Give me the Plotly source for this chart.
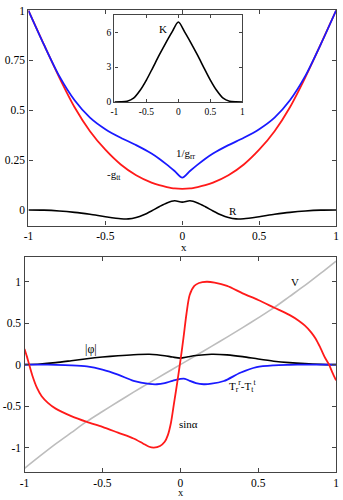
import plotly.graph_objects as go

# ---- upper panel: metric functions and curvature scalar ----
x_top = [-1, -0.9, -0.8, -0.7, -0.6, -0.5, -0.4, -0.3, -0.2, -0.15, -0.1, -0.05, 0,
         0.05, 0.1, 0.15, 0.2, 0.3, 0.4, 0.5, 0.6, 0.7, 0.8, 0.9, 1]
inv_grr = [1.0, 0.83, 0.672, 0.55, 0.463, 0.405, 0.362, 0.325, 0.283, 0.257, 0.227, 0.195, 0.162,
           0.195, 0.227, 0.257, 0.283, 0.325, 0.362, 0.405, 0.463, 0.55, 0.672, 0.83, 1.0]
minus_gtt = [1.0, 0.83, 0.665, 0.515, 0.395, 0.302, 0.228, 0.174, 0.137, 0.124, 0.115, 0.108, 0.106,
             0.108, 0.115, 0.124, 0.137, 0.174, 0.228, 0.302, 0.395, 0.515, 0.665, 0.83, 1.0]

x_r = [-1, -0.9, -0.8, -0.7, -0.6, -0.5, -0.4, -0.35, -0.3, -0.25, -0.2, -0.15, -0.1, -0.05, 0,
       0.05, 0.1, 0.15, 0.2, 0.25, 0.3, 0.35, 0.4, 0.5, 0.6, 0.7, 0.8, 0.9, 1]
ricci = [0.0, -0.001, -0.005, -0.012, -0.022, -0.034, -0.044, -0.045, -0.038, -0.024, -0.005, 0.016, 0.035, 0.046, 0.039,
         0.046, 0.035, 0.016, -0.005, -0.024, -0.038, -0.045, -0.044, -0.034, -0.022, -0.012, -0.005, -0.001, 0.0]

# inset: Kretschmann-type scalar K
x_k = [-1, -0.9, -0.8, -0.7, -0.6, -0.5, -0.4, -0.3, -0.2, -0.1, 0,
       0.1, 0.2, 0.3, 0.4, 0.5, 0.6, 0.7, 0.8, 0.9, 1]
k_vals = [0.0, 0.01, 0.07, 0.33, 0.985, 1.885, 2.945, 4.025, 5.045, 6.005, 6.88,
          6.005, 5.045, 4.025, 2.945, 1.885, 0.985, 0.33, 0.07, 0.01, 0.0]

# ---- lower panel: scalar field, potential, anisotropy, sin(alpha) ----
x_sin = [-1, -0.985, -0.97, -0.95, -0.92, -0.89, -0.85, -0.8, -0.7, -0.6, -0.5, -0.4, -0.3, -0.24, -0.2,
         -0.17, -0.13, -0.1, -0.08, -0.06, -0.04, -0.02, 0, 0.02, 0.04, 0.06, 0.09, 0.12, 0.17, 0.22,
         0.3, 0.4, 0.5, 0.6, 0.7, 0.76, 0.8, 0.84, 0.87, 0.9, 0.93, 0.955, 0.975, 1]
sin_alpha = [0.19, 0.1, 0.0, -0.13, -0.28, -0.38, -0.46, -0.53, -0.62, -0.69, -0.75, -0.82, -0.89, -0.95, -0.99,
             -1.0, -0.98, -0.93, -0.85, -0.7, -0.46, -0.22, 0.04, 0.32, 0.62, 0.84, 0.95, 0.985, 1.0, 0.99,
             0.95, 0.86, 0.78, 0.69, 0.6, 0.53, 0.47, 0.39, 0.31, 0.2, 0.08, 0.0, -0.09, -0.19]

x_v = [-1, -0.9, -0.8, -0.7, -0.6, -0.5, -0.4, -0.3, -0.2, -0.1, 0, 0.1, 0.2, 0.3, 0.4, 0.5, 0.6, 0.7, 0.8, 0.9, 1]
v_vals = [-1.25, -1.1, -0.955, -0.82, -0.685, -0.565, -0.447, -0.332, -0.22, -0.11, 0.0,
          0.11, 0.22, 0.332, 0.447, 0.565, 0.685, 0.82, 0.955, 1.1, 1.25]

x_phi = [-1, -0.9, -0.8, -0.7, -0.6, -0.5, -0.4, -0.3, -0.2, -0.15, -0.1, -0.05, 0,
         0.05, 0.1, 0.2, 0.3, 0.4, 0.5, 0.6, 0.7, 0.8, 0.9, 1]
abs_phi = [0.0, 0.008, 0.025, 0.048, 0.072, 0.092, 0.108, 0.12, 0.125, 0.12, 0.108, 0.092, 0.079,
           0.095, 0.11, 0.125, 0.118, 0.097, 0.068, 0.042, 0.024, 0.012, 0.004, 0.0]

x_t = [-1, -0.9, -0.8, -0.7, -0.6, -0.5, -0.4, -0.3, -0.2, -0.15, -0.1, -0.05, 0, 0.03,
       0.06, 0.1, 0.15, 0.2, 0.28, 0.385, 0.49, 0.6, 0.7, 0.8, 0.9, 1]
t_aniso = [0.0, 0.0, -0.002, -0.008, -0.022, -0.06, -0.12, -0.195, -0.232, -0.236, -0.222, -0.195, -0.172, -0.17,
           -0.195, -0.222, -0.236, -0.23, -0.197, -0.098, -0.03, -0.008, -0.002, 0.0, 0.0, 0.0]

x_ticks = [-1, -0.5, 0, 0.5, 1]
x_ticktext = ["-1", "-0.5", "0", "0.5", "1"]
top_yticks = [0, 0.25, 0.5, 0.75, 1]
top_yticktext = ["0", "0.25", "0.5", "0.75", "1"]
bot_yticks = [-1, -0.5, 0, 0.5, 1]
bot_yticktext = ["-1", "-0.5", "0", "0.5", "1"]
k_ticks = [0, 3, 6]

W, H = 343, 500
RED, BLUE, BLACK, GREY = "#ff1a1a", "#1a1aff", "#000000", "#bdbdbd"
FONT = "Liberation Serif"

fig = go.Figure()
line_kw = dict(shape="spline", smoothing=0.8)

fig.add_trace(go.Scatter(x=x_top, y=minus_gtt, mode="lines", line=dict(color=RED, width=1.8, **line_kw),
                         xaxis="x", yaxis="y"))
fig.add_trace(go.Scatter(x=x_top, y=inv_grr, mode="lines", line=dict(color=BLUE, width=1.8, **line_kw),
                         xaxis="x", yaxis="y"))
fig.add_trace(go.Scatter(x=x_r, y=ricci, mode="lines", line=dict(color=BLACK, width=1.6, **line_kw),
                         xaxis="x", yaxis="y"))
fig.add_trace(go.Scatter(x=x_k, y=k_vals, mode="lines", line=dict(color=BLACK, width=1.6, **line_kw),
                         xaxis="x3", yaxis="y3"))

fig.add_trace(go.Scatter(x=x_v, y=v_vals, mode="lines", line=dict(color=GREY, width=1.6, **line_kw),
                         xaxis="x2", yaxis="y2"))
fig.add_trace(go.Scatter(x=x_phi, y=abs_phi, mode="lines", line=dict(color=BLACK, width=1.6, **line_kw),
                         xaxis="x2", yaxis="y2"))
fig.add_trace(go.Scatter(x=x_t, y=t_aniso, mode="lines", line=dict(color=BLUE, width=1.8, **line_kw),
                         xaxis="x2", yaxis="y2"))
fig.add_trace(go.Scatter(x=x_sin, y=sin_alpha, mode="lines", line=dict(color=RED, width=1.8, **line_kw),
                         xaxis="x2", yaxis="y2"))


def ax(domain, rng, tv, tt, anchor, size=11.5, ticklen=4):
    return dict(domain=domain, range=rng, tickvals=tv, ticktext=tt, anchor=anchor,
                showgrid=False, zeroline=False, showline=True, linecolor="#444", linewidth=1.3,
                mirror="allticks", ticks="inside", ticklen=ticklen, tickwidth=1, tickcolor="#444",
                ticklabeloverflow="allow",
                tickfont=dict(family=FONT, size=size, color="black"))


fig.update_layout(
    width=W, height=H, margin=dict(l=0, r=0, t=0, b=0),
    paper_bgcolor="white", plot_bgcolor="white", showlegend=False,
    font=dict(family=FONT, size=11, color="black"),
    xaxis=ax([24 / W, 339 / W], [-1, 1], x_ticks, x_ticktext, "y"),
    yaxis=ax([1 - 225 / H, 1 - 5 / H], [-0.078, 1.003], top_yticks, top_yticktext, "x"),
    xaxis2=ax([20 / W, 339 / W], [-1, 1], x_ticks, x_ticktext, "y2"),
    yaxis2=ax([1 - 477 / H, 1 - 257 / H], [-1.3, 1.3], bot_yticks, bot_yticktext, "x2"),
    xaxis3=ax([112 / W, 243 / W], [-1, 1], x_ticks, x_ticktext, "y3", size=9.5, ticklen=3),
    yaxis3=ax([1 - 99 / H, 1 - 10 / H], [0, 7.5], k_ticks, [str(v) for v in k_ticks], "x3", size=9.5, ticklen=3),
)


def label(text, px, py, size=11):
    fig.add_annotation(text=text, x=px / W, y=1 - py / H, xref="paper", yref="paper",
                       showarrow=False, xanchor="center", yanchor="middle",
                       font=dict(family=FONT, size=size, color="black"))


label("1/g<sub>rr</sub>", 185, 152)
label("-g<sub>tt</sub>", 112, 173)
label("R", 233, 210)
label("K", 162, 24)
label("x", 183, 247)
label("|\u03c6|", 88, 351, size=12)
label("V", 297, 283)
label("T<sub>r</sub><sup>r</sup>-T<sub>t</sub><sup>t</sup>", 243, 389)
label("sin\u03b1", 188, 428)
label("x", 180, 497, size=10.5)

fig.write_html("out.html")
